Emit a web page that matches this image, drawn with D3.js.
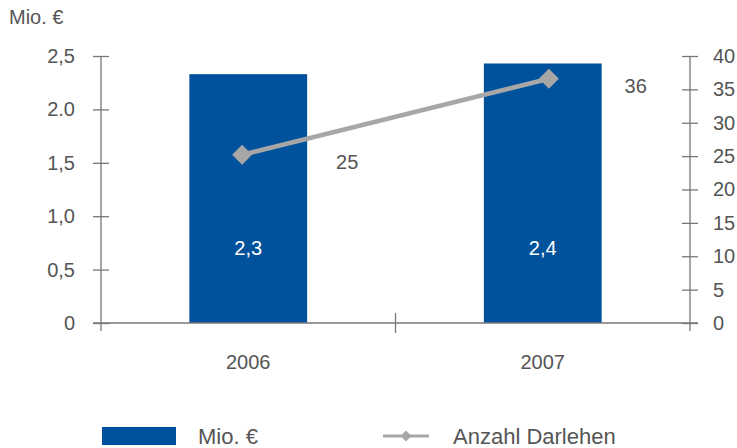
<!DOCTYPE html>
<html lang="de">
<head>
  <meta charset="utf-8" />
  <title>Darlehen</title>
  <script src="https://cdn.jsdelivr.net/npm/d3@7"></script>
  <style>
    body { margin: 0; background: white; }
    text { font-family: "Liberation Sans", Arial, sans-serif; fill: #555; }
    .domain, .tick line { stroke: #777; stroke-width: 1.3; }
  </style>
</head>
<body>
<script>

// data
var years = ["2006", "2007"];
var barValues = [2.33, 2.43];
var barLabels = ["2,3", "2,4"];
var lineValues = [25.2, 36.6];
var lineLabels = ["25", "36"];
var leftTicks = [0, 0.5, 1, 1.5, 2, 2.5];
var leftTickLabels = ["0", "0,5", "1,0", "1,5", "2.0", "2,5"];
var rightTicks = [0, 5, 10, 15, 20, 25, 30, 35, 40];

var w = 737, h = 448;
var pad = {left: 101, right: 47, top: 56, bottom: 125};
var blue = "#00529c", grey = "#a7a7a7";
var fs = "20px", legendFs = "22px";

var svg = d3.select("body").append("svg")
            .attr("width", w)
            .attr("height", h);

var x = d3.scaleBand()
          .domain(years)
          .range([pad.left, w - pad.right])
          .paddingInner(0.6)
          .paddingOuter(0.3);
var xLine = d3.scalePoint()
              .domain(years)
              .range([pad.left, w - pad.right])
              .padding(0.46);
var y = d3.scaleLinear()
          .domain([0, 2.5])
          .range([h - pad.bottom, pad.top]);
var y2 = d3.scaleLinear()
           .domain([0, 40])
           .range([h - pad.bottom, pad.top]);
var y0 = y(0);

// bars
svg.selectAll("rect.bar")
   .data(years)
   .enter()
   .append("rect")
   .attr("class", "bar")
   .attr("x", function(d) { return x(d); })
   .attr("width", x.bandwidth())
   .attr("y", function(d, i) { return y(barValues[i]); })
   .attr("height", function(d, i) { return y0 - y(barValues[i]); })
   .attr("fill", blue);

svg.selectAll("text.barlab")
   .data(years)
   .enter()
   .append("text")
   .attr("x", function(d) { return x(d) + x.bandwidth() / 2; })
   .attr("y", y(0.64))
   .attr("text-anchor", "middle")
   .style("fill", "white")
   .style("font-size", fs)
   .text(function(d, i) { return barLabels[i]; });

// axes
var leftAxis = d3.axisLeft(y)
                 .tickValues(leftTicks)
                 .tickFormat(function(d, i) { return leftTickLabels[i]; })
                 .tickSize(8)
                 .tickSizeOuter(0)
                 .tickPadding(18);
var gl = svg.append("g")
            .attr("transform", "translate(" + pad.left + ",0)")
            .call(leftAxis);
gl.selectAll(".tick line").attr("x1", 8);
gl.select(".domain").attr("d", "M0," + (y0 + 8) + "V" + pad.top);

var rightAxis = d3.axisRight(y2)
                  .tickValues(rightTicks)
                  .tickSize(8)
                  .tickSizeOuter(0)
                  .tickPadding(15);
var gr = svg.append("g")
            .attr("transform", "translate(" + (w - pad.right) + ",0)")
            .call(rightAxis);
gr.selectAll(".tick line").attr("x1", -8);
gr.select(".domain").attr("d", "M0," + (y0 + 8) + "V" + pad.top);

var gb = svg.append("g").attr("transform", "translate(0," + y0 + ")");
gb.append("path")
  .attr("class", "domain")
  .attr("fill", "none")
  .attr("d", "M" + (pad.left - 8) + ",0H" + (w - pad.right + 8));
gb.append("line")
  .attr("x1", (x(years[0]) + x(years[1]) + x.bandwidth()) / 2)
  .attr("x2", (x(years[0]) + x(years[1]) + x.bandwidth()) / 2)
  .attr("y1", -10).attr("y2", 10)
  .attr("stroke", "#777").attr("stroke-width", 1.3);
gb.selectAll("text.year")
  .data(years)
  .enter()
  .append("text")
  .attr("x", function(d) { return x(d) + x.bandwidth() / 2; })
  .attr("y", 46)
  .attr("text-anchor", "middle")
  .style("font-size", fs)
  .text(function(d) { return d; });

svg.selectAll(".tick text").style("font-size", fs);

// line
var line = d3.line()
             .x(function(d, i) { return xLine(years[i]); })
             .y(function(d) { return y2(d); });
svg.append("path")
   .datum(lineValues)
   .attr("d", line)
   .attr("fill", "none")
   .attr("stroke", grey)
   .attr("stroke-width", 4.5);
svg.selectAll("path.pt")
   .data(lineValues)
   .enter()
   .append("path")
   .attr("class", "pt")
   .attr("transform", function(d, i) {
     return "translate(" + xLine(years[i]) + "," + y2(d) + ") rotate(45)";
   })
   .attr("d", d3.symbol(d3.symbolSquare, 200))
   .attr("fill", grey);
svg.selectAll("text.linelab")
   .data(lineValues)
   .enter()
   .append("text")
   .attr("x", function(d, i) { return x(years[i]) + x.bandwidth() + (i ? 34 : 40); })
   .attr("y", function(d) { return y2(d) + 14; })
   .attr("text-anchor", "middle")
   .style("font-size", fs)
   .text(function(d, i) { return lineLabels[i]; });

// unit title
svg.append("text")
   .attr("x", 9).attr("y", 24)
   .style("font-size", fs)
   .text("Mio. €");

// legend
var lg = svg.append("g").attr("transform", "translate(102,427)");
lg.append("rect").attr("width", 74).attr("height", 18).attr("fill", blue);
lg.append("text").attr("x", 96).attr("y", 17).style("font-size", legendFs).text("Mio. €");
lg.append("line").attr("x1", 281).attr("x2", 327).attr("y1", 9).attr("y2", 9)
  .attr("stroke", grey).attr("stroke-width", 3);
lg.append("path").attr("transform", "translate(304,9) rotate(45)")
  .attr("d", d3.symbol(d3.symbolSquare, 60)).attr("fill", grey);
lg.append("text").attr("x", 351).attr("y", 17).style("font-size", legendFs).text("Anzahl Darlehen");

</script>
</body>
</html>
